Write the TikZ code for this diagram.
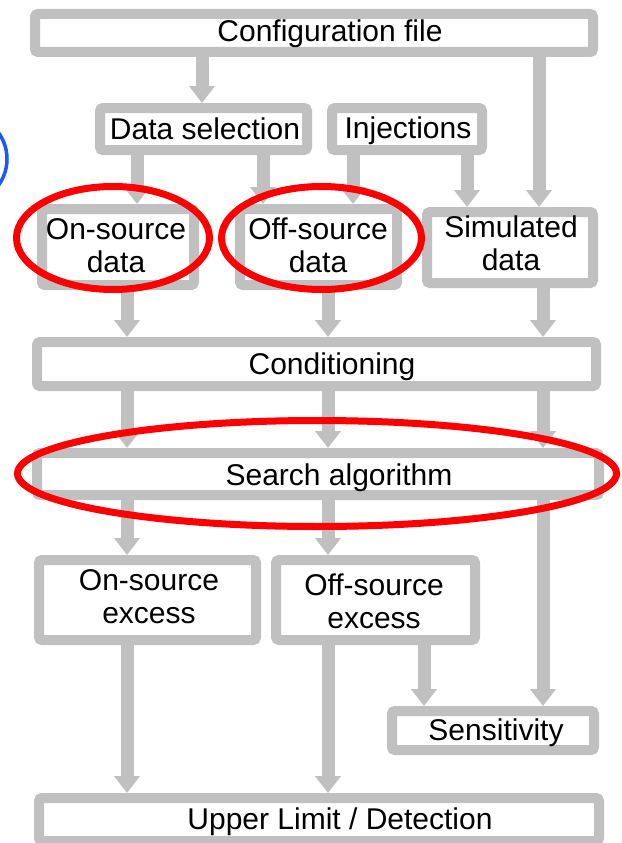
\documentclass[tikz,border=0pt]{standalone}
\usepackage{fontspec}
\setmainfont{Liberation Sans}
\usetikzlibrary{arrows.meta}
\definecolor{fr}{RGB}{192,192,192}
\definecolor{bl}{RGB}{25,90,255}
\begin{document}
\begin{tikzpicture}[x=1pt,y=-1pt,
  box/.style={draw=fr, line width=10pt, inner sep=0pt, outer sep=5pt, rounded corners=3pt, fill=white},
  lbl/.style={font=\fontsize{30}{33}\selectfont, align=center, anchor=base, inner sep=0pt},
  arr/.style={draw=fr, line width=13pt, -{Triangle[width=25pt,length=17pt]}},
  ring/.style={draw=red, line width=7pt}]
\useasboundingbox (0,0) rectangle (621,843);
\clip (0,0) rectangle (621,843);
% boxes
\node[box, minimum width=558pt, minimum height=38pt] (cfg) at (314,33) {};
\node[box, minimum width=207pt, minimum height=42pt] (ds) at (203.5,129) {};
\node[box, minimum width=150pt, minimum height=42pt] (inj) at (407,129) {};
\node[box, minimum width=152pt, minimum height=76pt] (ons) at (118,247) {};
\node[box, minimum width=157pt, minimum height=76pt] (offs) at (318.5,247) {};
\node[box, minimum width=166pt, minimum height=71pt] (sim) at (510,247.5) {};
\node[box, minimum width=559pt, minimum height=44pt] (cond) at (316.5,364) {};
\node[box, minimum width=562pt, minimum height=42pt] (search) at (318,474) {};
\node[box, minimum width=217pt, minimum height=80pt] (onx) at (147.5,600) {};
\node[box, minimum width=199pt, minimum height=80pt] (offx) at (375.5,600) {};
\node[box, minimum width=202pt, minimum height=39pt] (sens) at (493,730.5) {};
\node[box, minimum width=560pt, minimum height=43pt] (ul) at (319,819.5) {};
% columns
\coordinate (xa) at (202,0);
\coordinate (xb) at (539,0);
\coordinate (xc) at (137,0);
\coordinate (xd) at (263,0);
\coordinate (xe) at (353,0);
\coordinate (xf) at (467,0);
\coordinate (c1) at (127,0);
\coordinate (c2) at (328,0);
\coordinate (c3) at (543,0);
\coordinate (c4) at (424,0);
% connectors
\draw[arr] (cfg.south -| xa) -- (ds.north -| xa);
\draw[arr] (cfg.south -| xb) -- (sim.north -| xb);
\draw[arr] (ds.south -| xc) -- (ons.north -| xc);
\draw[arr] (ds.south -| xd) -- (offs.north -| xd);
\draw[arr] (inj.south -| xe) -- (offs.north -| xe);
\draw[arr] (inj.south -| xf) -- (sim.north -| xf);
\draw[arr] (ons.south -| c1) -- (cond.north -| c1);
\draw[arr] (offs.south -| c2) -- (cond.north -| c2);
\draw[arr] (sim.south -| c3) -- (cond.north -| c3);
\draw[arr] (cond.south -| c1) -- (search.north -| c1);
\draw[arr] (cond.south -| c2) -- (search.north -| c2);
\draw[arr] (cond.south -| c3) -- (search.north -| c3);
\draw[arr] (search.south -| c1) -- (onx.north -| c1);
\draw[arr] (search.south -| c2) -- (offx.north -| c2);
\draw[arr] (search.south -| c3) -- (sens.north -| c3);
\draw[arr] (offx.south -| c4) -- (sens.north -| c4);
\draw[arr] (onx.south -| c1) -- (ul.north -| c1);
\draw[arr] (offx.south -| c2) -- (ul.north -| c2);
% labels (anchor = baseline of last line)
\node[lbl] (cfgt) at (330,42) {Configuration file};
\node[lbl] (dst) at (205,139) {Data selection};
\node[lbl] (injt) at (408,138) {Injections};
\node[lbl] (onst) at (116,272) {On-source\\data};
\node[lbl] (offst) at (318,272) {Off-source\\data};
\node[lbl] (simt) at (511,270) {Simulated\\data};
\node[lbl] (condt) at (332,374) {Conditioning};
\node[lbl] (searcht) at (339,485) {Search algorithm};
\node[lbl] (onxt) at (149,623) {On-source\\excess};
\node[lbl] (offxt) at (374,628) {Off-source\\excess};
\node[lbl] (senst) at (496,740) {Sensitivity};
\node[lbl] (ult) at (340,829) {Upper Limit / Detection};
% highlight rings
\draw[ring] (113,238) ellipse [x radius=96.5pt, y radius=51.5pt];
\draw[ring] (321.5,238) ellipse [x radius=100pt, y radius=51.5pt];
\draw[ring] (317,473.5) ellipse [x radius=299.5pt, y radius=53pt];
\draw[bl, line width=3.5pt] (-38,159) circle [radius=45pt];
\end{tikzpicture}
\end{document}
